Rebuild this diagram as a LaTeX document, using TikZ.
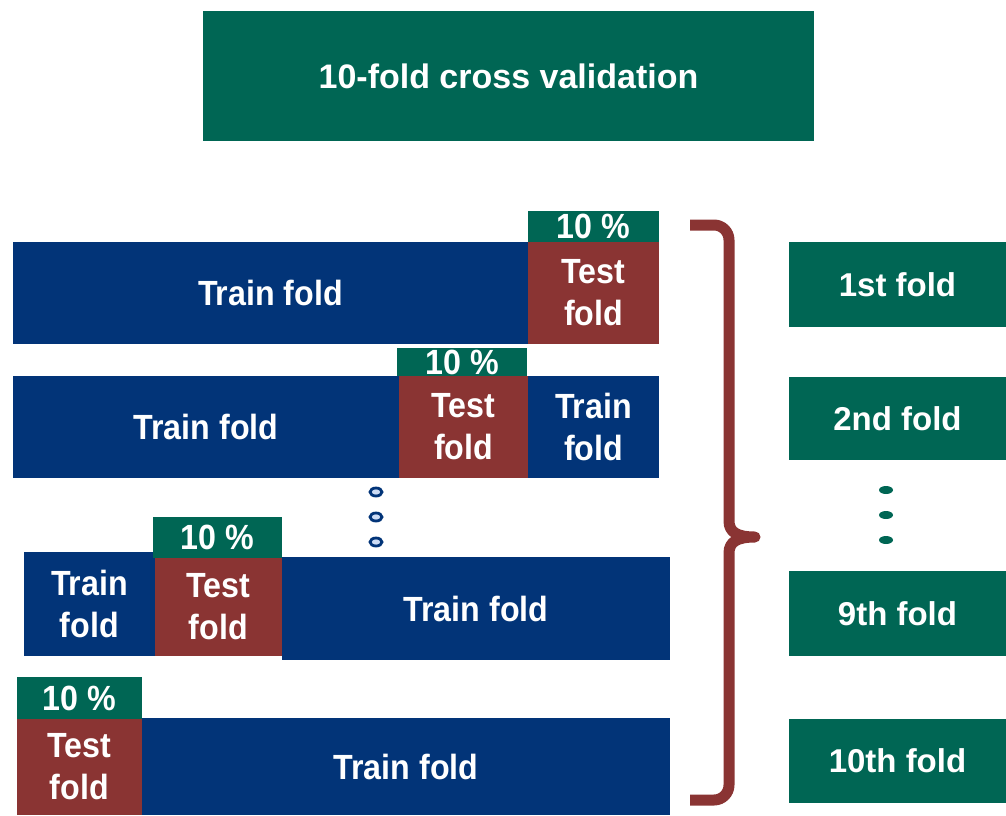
\documentclass[tikz,border=0pt]{standalone}
\usepackage{fontspec}
\setmainfont{Liberation Sans}
\newfontfamily\narrowfont{Liberation Sans}[FakeStretch=0.92]
\definecolor{cvgreen}{RGB}{0,102,84}
\definecolor{cvblue}{RGB}{2,52,120}
\definecolor{cvred}{RGB}{138,52,51}
\definecolor{dotfill}{RGB}{205,220,245}
\usetikzlibrary{shapes.geometric}
\tikzset{
  blk/.style={anchor=north west, inner sep=0pt, outer sep=0pt, text=white, align=center,
    font=\narrowfont\fontsize{35}{42}\selectfont\bfseries},
  trainbox/.style={blk, fill=cvblue},
  testbox/.style={blk, fill=cvred},
  pctbox/.style={blk, fill=cvgreen},
  foldbox/.style={blk, fill=cvgreen, font=\fontsize{33}{40}\selectfont\bfseries},
  bluedot/.style={ellipse, draw=cvblue, line width=2.8pt, fill=dotfill, minimum width=12pt, minimum height=8pt, inner sep=0pt},
  greendot/.style={ellipse, fill=cvgreen, minimum width=14pt, minimum height=8pt, inner sep=0pt},
  bracestyle/.style={draw=cvred, line width=11pt, line join=round}
}
\begin{document}
\begin{tikzpicture}[x=1pt,y=-1pt]
\useasboundingbox (0,0) rectangle (1006,815);
% title
\node[blk, fill=cvgreen, minimum width=611pt, minimum height=130pt, font=\fontsize{34}{40}\selectfont\bfseries] (title) at (203,11) {10-fold cross validation};
% row 1
\node[trainbox, minimum width=515pt, minimum height=102pt] (r1train) at (13,242) {Train fold};
\node[testbox, minimum width=131pt, minimum height=102pt] (r1test) at (528,242) {Test\\fold};
\node[pctbox, minimum width=131pt, minimum height=31pt] (r1pct) at (528,211) {10 \%};
% row 2
\node[trainbox, minimum width=386pt, minimum height=102pt] (r2trainA) at (13,376) {Train fold};
\node[testbox, minimum width=129pt, minimum height=102pt] (r2test) at (399,376) {Test\\fold};
\node[pctbox, minimum width=130pt, minimum height=28pt] (r2pct) at (397,348) {10 \%};
\node[trainbox, minimum width=131pt, minimum height=102pt] (r2trainB) at (528,376) {Train\\fold};
% dots
\node[bluedot] (bd1) at (376,492) {};
\node[bluedot] (bd2) at (376,517) {};
\node[bluedot] (bd3) at (376,542) {};
% row 3
\node[trainbox, minimum width=131pt, minimum height=104pt] (r3trainA) at (24,552) {Train\\fold};
\node[testbox, minimum width=127pt, minimum height=98pt] (r3test) at (155,558) {Test\\fold};
\node[pctbox, minimum width=129pt, minimum height=41pt] (r3pct) at (153,517) {10 \%};
\node[trainbox, minimum width=388pt, minimum height=103pt] (r3trainB) at (282,557) {Train fold};
% row 4
\node[pctbox, minimum width=125pt, minimum height=42pt] (r4pct) at (17,677) {10 \%};
\node[testbox, minimum width=125pt, minimum height=96pt] (r4test) at (17,719) {Test\\fold};
\node[trainbox, minimum width=528pt, minimum height=97pt] (r4train) at (142,718) {Train fold};
% brace
\draw[bracestyle] (690,225) -- (714,225) arc[start angle=-90, end angle=0, radius=15] -- (729,521)
  .. controls (729,532) and (737,537) .. (755,537)
  .. controls (737,537) and (729,542) .. (729,553)
  -- (729,785) arc[start angle=0, end angle=90, radius=15] -- (690,800);
% right fold boxes
\node[foldbox, minimum width=217pt, minimum height=85pt] (f1) at (789,242) {1st fold};
\node[foldbox, minimum width=217pt, minimum height=83pt] (f2) at (789,377) {2nd fold};
\node[greendot] (gd1) at (886,490) {};
\node[greendot] (gd2) at (886,515) {};
\node[greendot] (gd3) at (886,540) {};
\node[foldbox, minimum width=217pt, minimum height=85pt] (f9) at (789,571) {9th fold};
\node[foldbox, minimum width=217pt, minimum height=84pt] (f10) at (789,719) {10th fold};
\end{tikzpicture}
\end{document}
